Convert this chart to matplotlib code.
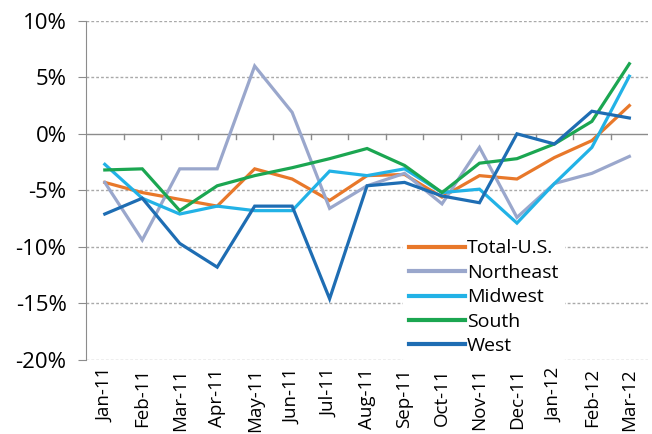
import matplotlib
matplotlib.use('Agg')
import matplotlib.pyplot as plt

plt.rcParams['font.family'] = ['Open Sans', 'DejaVu Sans']

months = ['Jan-11', 'Feb-11', 'Mar-11', 'Apr-11', 'May-11', 'Jun-11', 'Jul-11',
          'Aug-11', 'Sep-11', 'Oct-11', 'Nov-11', 'Dec-11', 'Jan-12', 'Feb-12', 'Mar-12']

total_us  = [-4.3, -5.2, -5.8, -6.4, -3.1, -4.0, -5.9, -3.7, -3.6, -5.6, -3.7, -4.0, -2.1, -0.6, 2.5]
northeast = [-4.3, -9.4, -3.1, -3.1, 6.0, 1.9, -6.6, -4.6, -3.5, -6.2, -1.2, -7.4, -4.4, -3.5, -2.0]
midwest   = [-2.7, -5.7, -7.1, -6.4, -6.8, -6.8, -3.3, -3.7, -3.1, -5.2, -4.9, -7.9, -4.4, -1.2, 5.1]
south     = [-3.2, -3.1, -6.8, -4.6, -3.7, -3.0, -2.2, -1.3, -2.8, -5.2, -2.6, -2.2, -0.9, 1.1, 6.2]
west      = [-7.1, -5.7, -9.7, -11.8, -6.4, -6.4, -14.6, -4.6, -4.3, -5.5, -6.1, 0.0, -0.9, 2.0, 1.4]

series = [
    ('Total-U.S.', total_us, '#E8782A'),
    ('Northeast', northeast, '#9AA7CC'),
    ('Midwest', midwest, '#22B2E6'),
    ('South', south, '#1BA651'),
    ('West', west, '#1E6DB3'),
]

fig = plt.figure(figsize=(6.52, 4.34), dpi=100)
ax = fig.add_axes([0.132, 0.171, 0.862, 0.781])

x = range(len(months))
for name, vals, col in series:
    ax.plot(x, vals, color=col, lw=2.3, label=name, solid_joinstyle='miter')

# dashed gridlines, solid zero line
for yv in [10, 5, -5, -10, -15, -20]:
    ax.axhline(yv, color='#a9a9a9', lw=1.0, ls=(0, (2, 1.5)), zorder=0)
ax.axhline(0, color='#8c8c8c', lw=1.0, zorder=1)

# tick marks on the zero line between categories
for i in range(1, len(months)):
    ax.plot([i - 0.5, i - 0.5], [0, -0.45], color='#8c8c8c', lw=1.0, zorder=1)

ax.set_xlim(-0.5, len(months) - 0.5)
ax.set_ylim(-20, 10)
ax.set_yticks([10, 5, 0, -5, -10, -15, -20])
ax.set_yticklabels(['10%', '5%', '0%', '-5%', '-10%', '-15%', '-20%'], fontsize=16)
ax.set_xticks(list(x))
ax.set_xticklabels(months, rotation=90, fontsize=13.5)
ax.tick_params(axis='x', length=0, pad=6)
ax.tick_params(axis='y', length=6, color='#8c8c8c', pad=8)

for s in ['top', 'right', 'bottom']:
    ax.spines[s].set_visible(False)
ax.spines['left'].set_color('#8c8c8c')

leg = ax.legend(loc='upper left', bbox_to_anchor=(0.603, 0.484), bbox_transform=fig.transFigure,
                frameon=True, fontsize=14, handlelength=2.9, handletextpad=0.1,
                labelspacing=0.33, borderpad=0.3)
leg.get_frame().set_facecolor('white')
leg.get_frame().set_edgecolor('white')
leg.get_frame().set_alpha(1)
for h in leg.get_lines():
    h.set_linewidth(3)

fig.savefig('out.png', dpi=100)
